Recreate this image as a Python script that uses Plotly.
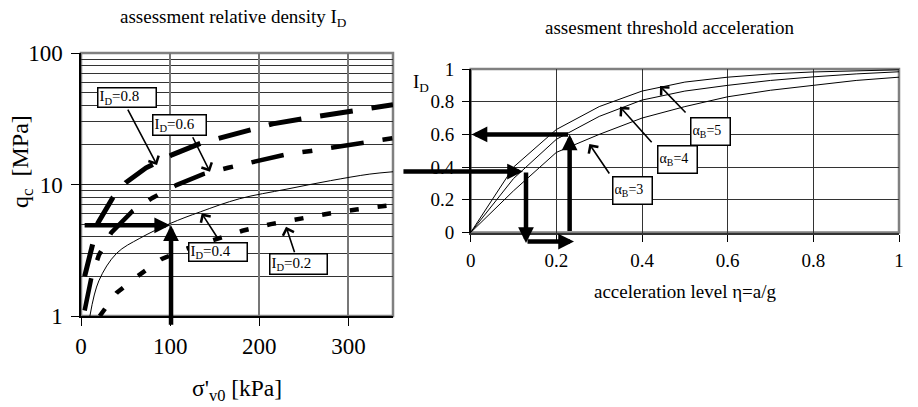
import plotly.graph_objects as go

# ---------------- data: left chart (q_c vs sigma'_v0) ----------------
sv_08 = [4.1, 8, 13.4, 19, 36, 50, 73, 102, 135, 158, 193, 215, 251, 273, 309, 350]
qc_08 = [2.0, 2.55, 3.47, 5.1, 8.0, 10.3, 13.4, 16.8, 20.7, 22.8, 26.9, 28.9, 31.8, 33.7, 36.8, 40.4]
sv_06 = [4.1, 8, 11.5, 20, 34, 58, 80, 107, 137, 165, 200, 231, 258, 284, 320, 350]
qc_06 = [1.1, 1.5, 1.94, 2.9, 4.3, 6.3, 7.9, 9.9, 12.0, 13.4, 15.2, 17.0, 18.0, 19.2, 21.0, 22.5]
sv_04 = [10, 20, 40, 66, 100, 134, 178, 230, 280, 324, 350]
qc_04 = [1.0, 1.85, 3.0, 3.9, 5.05, 6.2, 7.8, 9.2, 10.7, 12.0, 12.5]
sv_02 = [21, 40, 63, 90, 118, 152, 181, 213, 245, 277, 309, 350]
qc_02 = [1.0, 1.5, 2.0, 2.7, 3.25, 3.85, 4.45, 5.0, 5.5, 6.0, 6.45, 7.0]

# ---------------- data: right chart (I_D vs eta) ----------------
eta = [0, 0.1, 0.2, 0.3, 0.4, 0.5, 0.6, 0.7, 0.8, 0.9, 1.0]
id_a5 = [0, 0.40, 0.63, 0.77, 0.865, 0.92, 0.95, 0.97, 0.982, 0.99, 0.995]
id_a4 = [0, 0.33, 0.57, 0.71, 0.81, 0.865, 0.90, 0.93, 0.952, 0.97, 0.983]
id_a3 = [0, 0.255, 0.49, 0.60, 0.70, 0.77, 0.83, 0.87, 0.90, 0.93, 0.95]

left_xticks = [0, 100, 200, 300]
left_yticks = [1, 10, 100]
left_yminor = [2, 3, 4, 5, 6, 7, 8, 9, 20, 30, 40, 50, 60, 70, 80, 90]
right_ticks = [0, 0.2, 0.4, 0.6, 0.8, 1.0]
right_ticktext = ["0", "0.2", "0.4", "0.6", "0.8", "1"]

FONT = "Liberation Serif"
W, H = 918, 407

fig = go.Figure()

# left curves
fig.add_trace(go.Scatter(x=sv_08, y=qc_08, mode="lines", xaxis="x", yaxis="y",
                         line=dict(color="black", width=5, dash="33px,19px"), hoverinfo="skip"))
fig.add_trace(go.Scatter(x=sv_06, y=qc_06, mode="lines", xaxis="x", yaxis="y",
                         line=dict(color="black", width=4.5, dash="33px,19px,10px,19px"), hoverinfo="skip"))
fig.add_trace(go.Scatter(x=sv_04, y=qc_04, mode="lines", xaxis="x", yaxis="y", line_shape="spline",
                         line=dict(color="black", width=1), hoverinfo="skip"))
fig.add_trace(go.Scatter(x=sv_02, y=qc_02, mode="lines", xaxis="x", yaxis="y",
                         line=dict(color="black", width=4.5, dash="9px,19px"), hoverinfo="skip"))

# right curves
for ys in (id_a5, id_a4, id_a3):
    fig.add_trace(go.Scatter(x=eta, y=ys, mode="lines", xaxis="x2", yaxis="y2",
                             line=dict(color="black", width=1), hoverinfo="skip"))

tickfont_l = dict(family=FONT, size=23, color="black")
tickfont_r = dict(family=FONT, size=19, color="black")

fig.update_layout(
    template="none",
    width=W, height=H, margin=dict(l=0, r=0, t=0, b=0, autoexpand=False),
    font=dict(family=FONT, color="black"),
    paper_bgcolor="white", plot_bgcolor="white", showlegend=False,
    xaxis=dict(domain=[81 / W, 393 / W], range=[0, 350], anchor="y", automargin=False,
               tickvals=left_xticks, showgrid=True, gridcolor="#777777", gridwidth=1.5,
               showline=True, linecolor="black", linewidth=1.5, zeroline=False,
               ticks="outside", ticklen=8, tickcolor="black", tickfont=tickfont_l,
               ticklabelstandoff=1),
    yaxis=dict(domain=[1 - 316 / H, 1 - 53 / H], type="log", range=[0, 2], anchor="x",
               automargin=False,
               tickvals=left_yticks, ticktext=["1", "10", "100"],
               showgrid=True, gridcolor="#222222", gridwidth=1.2,
               showline=True, linecolor="black", linewidth=1.5, zeroline=False,
               ticks="outside", ticklen=8, tickcolor="black", tickfont=tickfont_l,
               ticklabelstandoff=4,
               minor=dict(tickvals=left_yminor, showgrid=True, gridcolor="#333333",
                          gridwidth=1, ticks="")),
    xaxis2=dict(domain=[470.7 / W, 899 / W], range=[0, 1], anchor="y2", automargin=False,
                tickvals=right_ticks, ticktext=right_ticktext,
                showgrid=True, gridcolor="#333333", gridwidth=1,
                showline=True, linecolor="#333333", linewidth=2, zeroline=False,
                ticks="outside", ticklen=7, tickcolor="black", tickfont=tickfont_r,
                ticklabelstandoff=3),
    yaxis2=dict(domain=[1 - 232.5 / H, 1 - 69 / H], range=[0, 1], anchor="x2", automargin=False,
                tickvals=right_ticks, ticktext=right_ticktext,
                showgrid=True, gridcolor="#333333", gridwidth=1,
                showline=True, linecolor="black", linewidth=1.5, zeroline=False,
                ticks="outside", ticklen=7, tickcolor="black", tickfont=tickfont_r,
                ticklabelstandoff=4),
)

# gray frames
for xr, yr in (("x domain", "y domain"), ("x2 domain", "y2 domain")):
    fig.add_shape(type="rect", xref=xr, yref=yr, x0=0, x1=1, y0=0, y1=1,
                  line=dict(color="#808080", width=2.5), layer="below")

ann = []

def txt(text, x, y, size, xref="paper", yref="paper", **kw):
    ann.append(dict(text=text, x=x, y=y, xref=xref, yref=yref, showarrow=False,
                    xanchor="center", yanchor="middle",
                    font=dict(family=FONT, size=size, color="black"), **kw))

# titles and axis titles
txt("assessment relative density I<sub>D</sub>", 234 / W, 1 - 18 / H, 19)
txt("assesment threshold acceleration", 669.5 / W, 1 - 27 / H, 19)
txt("q<sub>c</sub>  [MPa]", 22 / W, 1 - 162 / H, 24, textangle=-90)
txt("σ'<sub>v0</sub> [kPa]", 237 / W, 1 - 390 / H, 23.5)
txt("acceleration level η=a/g", 685 / W, 1 - 291 / H, 19)
txt("I<sub>D</sub>", 421 / W, 1 - 83 / H, 19)

def box(text, x, y, xref, yref, w, h, size):
    ann.append(dict(text=text, x=x, y=y, xref=xref, yref=yref, showarrow=False,
                    xanchor="center", yanchor="middle",
                    font=dict(family=FONT, size=size, color="black"),
                    bgcolor="white", bordercolor="black", borderwidth=1.5, borderpad=1,
                    width=w, height=h, align="left", valign="middle"))

# label boxes (left chart: y given in log10 units)
box("I<sub>D</sub>=0.8", 51.6, 1.658, "x", "y", 55, 16, 15)
box("I<sub>D</sub>=0.6", 110.7, 1.449, "x", "y", 50, 17, 15)
box("I<sub>D</sub>=0.4", 154.0, 0.490, "x", "y", 55, 15, 15)
box("I<sub>D</sub>=0.2", 244.5, 0.395, "x", "y", 54, 17, 15)
box("α<sub>B</sub>=5", 0.560, 0.618, "x2", "y2", 36, 24, 14)
box("α<sub>B</sub>=4", 0.483, 0.446, "x2", "y2", 36, 24, 14)
box("α<sub>B</sub>=3", 0.377, 0.254, "x2", "y2", 36, 24, 14)

def arrow(x, y, ax, ay, xref, yref, width, head, size):
    ann.append(dict(text="", x=x, y=y, xref=xref, yref=yref, ax=ax, ay=ay,
                    showarrow=True, arrowhead=head, arrowwidth=width, arrowsize=size,
                    arrowcolor="black", standoff=0))

# thin label arrows
arrow(85.3, 1.148, -30, -57, "x", "y", 1.6, 4, 1.4)
arrow(144.7, 1.097, -18, -36, "x", "y", 1.6, 4, 1.4)
arrow(135.4, 0.781, 18, 28, "x", "y", 1.6, 4, 1.4)
arrow(230.0, 0.679, 9, 27, "x", "y", 1.6, 4, 1.4)
arrow(0.442, 0.896, 27, 28, "x2", "y2", 1.6, 4, 1.4)
arrow(0.3486, 0.769, 33, 37, "x2", "y2", 1.6, 4, 1.4)
arrow(0.277, 0.541, 21, 31, "x2", "y2", 1.6, 4, 1.4)

# thick procedure arrows
arrow(100, 0.69, -87, 0, "x", "y", 4.5, 2, 0.7)
arrow(101, 0.69, 0, 101, "x", "y", 4.5, 2, 0.7)
arrow(0.122, 0.373, -121, 0, "x2", "y2", 4.5, 2, 0.7)
arrow(526 / W, 1 - 243 / H, 0, -72, "paper", "paper", 4.5, 2, 0.7)
arrow(574 / W, 1 - 241.5 / H, -48, 0, "paper", "paper", 4.5, 2, 0.7)
arrow(0.231, 0.60, 0, 98, "x2", "y2", 4.5, 2, 0.7)
arrow(0.002, 0.60, 98, 0, "x2", "y2", 4.5, 2, 0.7)

fig.update_layout(annotations=ann)
fig.write_html("out.html")
